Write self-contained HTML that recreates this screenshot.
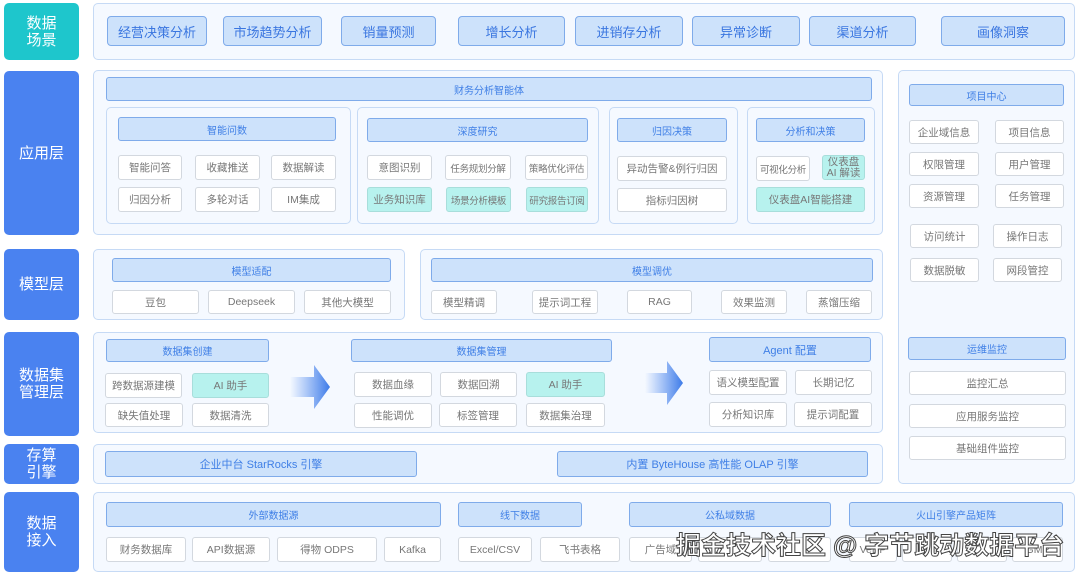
<!DOCTYPE html>
<html><head><meta charset="utf-8"><style>
*{margin:0;padding:0;box-sizing:border-box}
body{width:1080px;height:575px;background:#fff;position:relative;overflow:hidden;font-family:"Liberation Sans","Noto Sans CJK SC",sans-serif}
div{position:absolute;display:flex;align-items:center;justify-content:center;text-align:center}
.L{background:#4a82f0;color:#fff;font-size:15px;border-radius:5px;line-height:17px;left:4px;width:75px}
.c{background:#f5f9ff;border:1px solid #c6daf5;border-radius:5px}
.h{background:#cde2fb;border:1px solid #7fabea;border-radius:3px;color:#3f7fe6;font-size:10px}
.i{background:#fff;border:1px solid #d3d8df;border-radius:3px;color:#777;font-size:10.5px;white-space:nowrap}
.s{font-size:9.5px;letter-spacing:-0.3px}
.t{background:#b7f2ee;border-color:#a8dedb}
.tb{background:#cde2fb;border:1px solid #7fabea;border-radius:4px;color:#3a76e0;font-size:13px;top:16px;height:30px}
.wm{color:#fff;font-size:25px;-webkit-text-stroke:1px #444;justify-content:flex-start;white-space:nowrap;font-weight:bold}
</style></head><body>
<div class="L" style="top:3px;height:57px;background:#1ec6cc">数据<br>场景</div>
<div class="L" style="top:71px;height:164px">应用层</div>
<div class="L" style="top:249px;height:71px">模型层</div>
<div class="L" style="top:332px;height:104px">数据集<br>管理层</div>
<div class="L" style="top:444px;height:40px">存算<br>引擎</div>
<div class="L" style="top:492px;height:80px">数据<br>接入</div>

<div class="c" style="left:93px;top:3px;width:982px;height:57px"></div>
<div class="tb" style="left:107px;width:100px">经营决策分析</div>
<div class="tb" style="left:223px;width:99px">市场趋势分析</div>
<div class="tb" style="left:341px;width:95px">销量预测</div>
<div class="tb" style="left:458px;width:107px">增长分析</div>
<div class="tb" style="left:575px;width:108px">进销存分析</div>
<div class="tb" style="left:692px;width:108px">异常诊断</div>
<div class="tb" style="left:809px;width:107px">渠道分析</div>
<div class="tb" style="left:941px;width:124px">画像洞察</div>

<div class="c" style="left:93px;top:70px;width:790px;height:165px"></div>
<div class="h" style="left:106px;top:77px;width:766px;height:24px">财务分析智能体</div>
<div class="c" style="left:106px;top:107px;width:245px;height:117px"></div>
<div class="h" style="left:118px;top:117px;width:218px;height:24px">智能问数</div>
<div class="i" style="left:118px;top:155px;width:64px;height:25px">智能问答</div>
<div class="i" style="left:195px;top:155px;width:65px;height:25px">收藏推送</div>
<div class="i" style="left:271px;top:155px;width:65px;height:25px">数据解读</div>
<div class="i" style="left:118px;top:187px;width:64px;height:25px">归因分析</div>
<div class="i" style="left:195px;top:187px;width:65px;height:25px">多轮对话</div>
<div class="i" style="left:271px;top:187px;width:65px;height:25px">IM集成</div>

<div class="c" style="left:357px;top:107px;width:242px;height:117px"></div>
<div class="h" style="left:367px;top:118px;width:221px;height:24px">深度研究</div>
<div class="i" style="left:367px;top:155px;width:65px;height:25px">意图识别</div>
<div class="i s" style="left:445px;top:155px;width:66px;height:25px">任务规划分解</div>
<div class="i s" style="left:525px;top:155px;width:63px;height:25px">策略优化评估</div>
<div class="i t" style="left:367px;top:187px;width:65px;height:25px">业务知识库</div>
<div class="i t s" style="left:446px;top:187px;width:65px;height:25px">场景分析模板</div>
<div class="i t s" style="left:526px;top:187px;width:62px;height:25px">研究报告订阅</div>

<div class="c" style="left:609px;top:107px;width:129px;height:117px"></div>
<div class="h" style="left:617px;top:118px;width:110px;height:24px">归因决策</div>
<div class="i" style="left:617px;top:156px;width:110px;height:25px">异动告警&amp;例行归因</div>
<div class="i" style="left:617px;top:188px;width:110px;height:24px">指标归因树</div>

<div class="c" style="left:747px;top:107px;width:128px;height:117px"></div>
<div class="h" style="left:756px;top:118px;width:109px;height:24px">分析和决策</div>
<div class="i s" style="left:756px;top:156px;width:54px;height:25px">可视化分析</div>
<div class="i t" style="left:822px;top:155px;width:43px;height:25px;line-height:11px;white-space:normal">仪表盘<br>AI 解读</div>
<div class="i t" style="left:756px;top:187px;width:109px;height:25px">仪表盘AI智能搭建</div>

<div class="c" style="left:898px;top:70px;width:177px;height:414px"></div>
<div class="h" style="left:909px;top:84px;width:155px;height:22px">项目中心</div>
<div class="i" style="left:909px;top:120px;width:70px;height:24px">企业域信息</div>
<div class="i" style="left:995px;top:120px;width:69px;height:24px">项目信息</div>
<div class="i" style="left:909px;top:152px;width:70px;height:24px">权限管理</div>
<div class="i" style="left:995px;top:152px;width:69px;height:24px">用户管理</div>
<div class="i" style="left:909px;top:184px;width:70px;height:24px">资源管理</div>
<div class="i" style="left:995px;top:184px;width:69px;height:24px">任务管理</div>
<div class="i" style="left:910px;top:224px;width:69px;height:24px">访问统计</div>
<div class="i" style="left:993px;top:224px;width:69px;height:24px">操作日志</div>
<div class="i" style="left:910px;top:258px;width:69px;height:24px">数据脱敏</div>
<div class="i" style="left:993px;top:258px;width:69px;height:24px">网段管控</div>
<div class="h" style="left:908px;top:337px;width:158px;height:23px">运维监控</div>
<div class="i" style="left:909px;top:371px;width:157px;height:24px">监控汇总</div>
<div class="i" style="left:909px;top:404px;width:157px;height:24px">应用服务监控</div>
<div class="i" style="left:909px;top:436px;width:157px;height:24px">基础组件监控</div>

<div class="c" style="left:93px;top:249px;width:312px;height:71px"></div>
<div class="h" style="left:112px;top:258px;width:279px;height:24px">模型适配</div>
<div class="i" style="left:112px;top:290px;width:87px;height:24px">豆包</div>
<div class="i" style="left:208px;top:290px;width:87px;height:24px">Deepseek</div>
<div class="i" style="left:304px;top:290px;width:87px;height:24px">其他大模型</div>
<div class="c" style="left:420px;top:249px;width:463px;height:71px"></div>
<div class="h" style="left:431px;top:258px;width:442px;height:24px">模型调优</div>
<div class="i" style="left:431px;top:290px;width:66px;height:24px">模型精调</div>
<div class="i" style="left:532px;top:290px;width:66px;height:24px">提示词工程</div>
<div class="i" style="left:627px;top:290px;width:65px;height:24px">RAG</div>
<div class="i" style="left:721px;top:290px;width:66px;height:24px">效果监测</div>
<div class="i" style="left:806px;top:290px;width:66px;height:24px">蒸馏压缩</div>

<div class="c" style="left:93px;top:332px;width:790px;height:101px"></div>
<div class="h" style="left:106px;top:339px;width:163px;height:23px">数据集创建</div>
<div class="i" style="left:105px;top:373px;width:77px;height:25px">跨数据源建模</div>
<div class="i t" style="left:192px;top:373px;width:77px;height:25px">AI 助手</div>
<div class="i" style="left:105px;top:403px;width:78px;height:24px">缺失值处理</div>
<div class="i" style="left:192px;top:403px;width:77px;height:24px">数据清洗</div>
<svg style="position:absolute;left:290px;top:365px" width="42" height="44"><defs><linearGradient id="g" x1="0" x2="1"><stop offset="0" stop-color="#4a86f0" stop-opacity="0"/><stop offset="1" stop-color="#3d7be8"/></linearGradient></defs><polygon points="0,12 24,12 24,0 40,22 24,44 24,32 0,32" fill="url(#g)"/></svg>
<div class="h" style="left:351px;top:339px;width:261px;height:23px">数据集管理</div>
<div class="i" style="left:354px;top:372px;width:78px;height:25px">数据血缘</div>
<div class="i" style="left:440px;top:372px;width:77px;height:25px">数据回溯</div>
<div class="i t" style="left:526px;top:372px;width:79px;height:25px">AI 助手</div>
<div class="i" style="left:354px;top:403px;width:78px;height:25px">性能调优</div>
<div class="i" style="left:439px;top:403px;width:78px;height:24px">标签管理</div>
<div class="i" style="left:526px;top:403px;width:79px;height:24px">数据集治理</div>
<svg style="position:absolute;left:645px;top:361px" width="40" height="44"><polygon points="0,12 22,12 22,0 38,22 22,44 22,32 0,32" fill="url(#g)"/></svg>
<div class="h" style="left:709px;top:337px;width:162px;height:25px;font-size:11px">Agent 配置</div>
<div class="i" style="left:709px;top:370px;width:78px;height:25px">语义模型配置</div>
<div class="i" style="left:795px;top:370px;width:77px;height:25px">长期记忆</div>
<div class="i" style="left:709px;top:402px;width:78px;height:25px">分析知识库</div>
<div class="i" style="left:794px;top:402px;width:78px;height:25px">提示词配置</div>

<div class="c" style="left:93px;top:444px;width:790px;height:40px"></div>
<div class="h" style="left:105px;top:451px;width:312px;height:26px;font-size:11px">企业中台 StarRocks 引擎</div>
<div class="h" style="left:557px;top:451px;width:311px;height:26px;font-size:11px">内置 ByteHouse 高性能 OLAP 引擎</div>

<div class="c" style="left:93px;top:492px;width:982px;height:80px"></div>
<div class="h" style="left:106px;top:502px;width:335px;height:25px">外部数据源</div>
<div class="h" style="left:458px;top:502px;width:124px;height:25px">线下数据</div>
<div class="h" style="left:629px;top:502px;width:202px;height:25px">公私域数据</div>
<div class="h" style="left:849px;top:502px;width:214px;height:25px">火山引擎产品矩阵</div>
<div class="i" style="left:106px;top:537px;width:80px;height:25px">财务数据库</div>
<div class="i" style="left:192px;top:537px;width:78px;height:25px">API数据源</div>
<div class="i" style="left:277px;top:537px;width:100px;height:25px">得物 ODPS</div>
<div class="i" style="left:384px;top:537px;width:57px;height:25px">Kafka</div>
<div class="i" style="left:458px;top:537px;width:74px;height:25px">Excel/CSV</div>
<div class="i" style="left:540px;top:537px;width:80px;height:25px">飞书表格</div>
<div class="i" style="left:629px;top:537px;width:63px;height:25px">广告域</div>
<div class="i" style="left:698px;top:537px;width:64px;height:25px"></div>
<div class="i" style="left:768px;top:537px;width:63px;height:25px"></div>
<div class="i" style="left:849px;top:537px;width:48px;height:25px">VeDP</div>
<div class="i" style="left:902px;top:537px;width:50px;height:25px"></div>
<div class="i" style="left:957px;top:537px;width:50px;height:25px"></div>
<div class="i" style="left:1012px;top:537px;width:51px;height:25px">GMP</div>
<div class="wm" style="left:676px;top:529px;height:30px">掘金技术社区 @ 字节跳动数据平台</div>
</body></html>
